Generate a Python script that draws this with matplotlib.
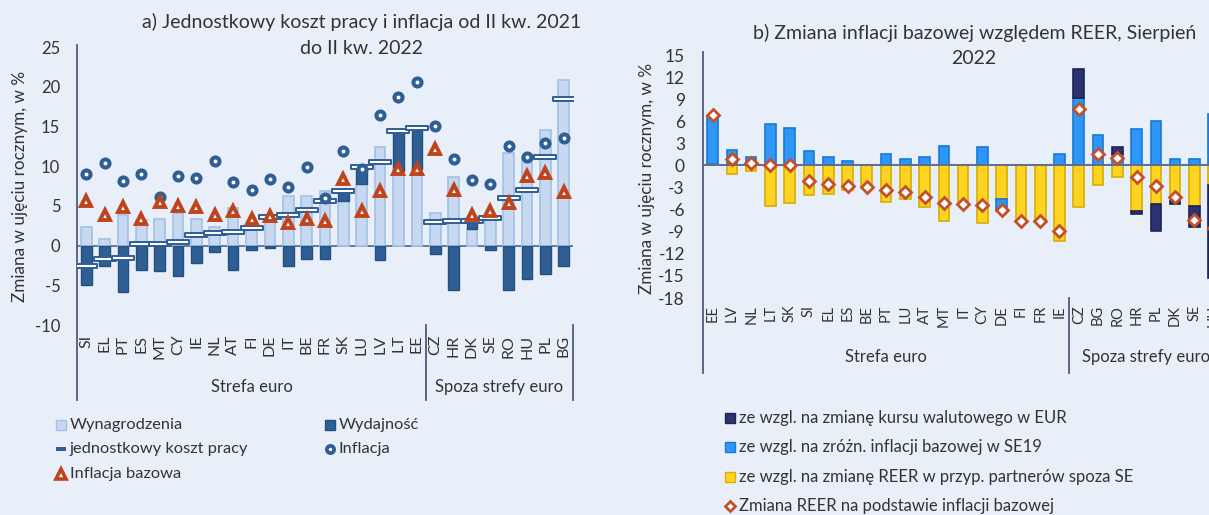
import numpy as np
import matplotlib
matplotlib.use("Agg")
import matplotlib.pyplot as plt
from matplotlib.path import Path
from matplotlib.lines import Line2D
from matplotlib.patches import Rectangle
import matplotlib.transforms as mtrans

plt.rcParams['font.family'] = ['Lato', 'DejaVu Sans']

# ---------------- data: panel a ----------------
cats_a = ['SI', 'EL', 'PT', 'ES', 'MT', 'CY', 'IE', 'NL', 'AT', 'FI', 'DE', 'IT', 'BE', 'FR',
          'SK', 'LU', 'LV', 'LT', 'EE', 'CZ', 'HR', 'DK', 'SE', 'RO', 'HU', 'PL', 'BG']
wages = [2.4, 0.85, 3.9, 3.2, 3.4, 4.1, 3.4, 2.3, 4.7, 2.7, 3.9, 6.2, 6.2, 6.9,
         5.65, 7.75, 12.35, 9.4, 9.6, 4.05, 8.6, 2.1, 3.9, 11.6, 11.1, 14.6, 20.85]
productivity = [-5.0, -2.55, -5.8, -3.05, -3.2, -3.85, -2.2, -0.85, -3.05, -0.5, -0.3, -2.55, -1.7, -1.7,
                1.2, 2.05, -1.8, 5.05, 5.15, -1.1, -5.65, 0.95, -0.5, -5.65, -4.2, -3.55, -2.6]
ulc = [-2.55, -1.7, -1.6, 0.2, 0.2, 0.4, 1.35, 1.6, 1.7, 2.2, 3.6, 3.8, 4.5, 5.55,
       6.85, 9.85, 10.55, 14.45, 14.75, 2.95, 3.05, 3.05, 3.45, 6.0, 6.95, 11.2, 18.45]
inflation = [9.0, 10.4, 8.1, 9.0, 6.1, 8.8, 8.5, 10.6, 8.0, 7.0, 8.4, 7.4, 9.9, 5.95,
             11.95, 9.7, 16.4, 18.65, 20.6, 15.1, 10.9, 8.3, 7.7, 12.5, 11.1, 12.9, 13.5]
core_inflation = [5.6, 3.9, 4.8, 3.4, 5.45, 4.95, 4.8, 3.85, 4.4, 3.3, 3.7, 2.8, 3.3, 3.15,
                  8.4, 4.4, 6.85, 9.65, 9.65, 12.1, 7.05, 3.8, 4.3, 5.3, 8.8, 9.1, 6.7]
n_euro_a = 19
yticks_a = [-10, -5, 0, 5, 10, 15, 20, 25]

# ---------------- data: panel b ----------------
cats_b = ['EE', 'LV', 'NL', 'LT', 'SK', 'SI', 'EL', 'ES', 'BE', 'PT', 'LU', 'AT', 'MT', 'IT',
          'CY', 'DE', 'FI', 'FR', 'IE', 'CZ', 'BG', 'RO', 'HR', 'PL', 'DK', 'SE', 'HU']
fx_eur = [0, 0, 0, 0, 0, 0, 0, 0, 0, 0, 0, 0, 0, 0, 0, 0, 0, 0, 0,
          3.9, 0, 0.9, -0.45, -3.6, -0.45, -2.85, -12.6]
core_diff_se19 = [6.4, 2.1, 1.1, 5.6, 5.1, 1.9, 1.2, 0.6, 0, 1.6, 0.9, 1.2, 2.6, 0,
                  2.45, -1.4, 0, 0, 1.55, 9.2, 4.2, 1.6, 4.9, 6.05, 0.9, 0.9, 6.95]
reer_non_se = [0.25, -1.2, -0.7, -5.45, -5.05, -4.0, -3.85, -3.3, -2.9, -4.9, -4.6, -5.6, -7.6, -5.3,
               -7.85, -4.6, -7.55, -7.6, -10.3, -5.6, -2.7, -1.55, -6.2, -5.3, -4.8, -5.55, -2.7]
reer_total = [6.8, 0.9, 0.3, 0.1, 0.1, -2.05, -2.55, -2.75, -2.9, -3.4, -3.6, -4.3, -5.05, -5.3,
              -5.35, -6.05, -7.5, -7.5, -8.85, 7.6, 1.5, 1.0, -1.6, -2.8, -4.3, -7.35, -8.5]
n_euro_b = 19
yticks_b = [-18, -15, -12, -9, -6, -3, 0, 3, 6, 9, 12, 15]

# ---------------- styling ----------------
W, H = 1209, 515
BG = '#E8EFF8'
TXT = '#333333'
AXC = '#4D5B7C'
TITLE_FS = 14
TICK_FS = 12
LAB_FS = 12.3
GROUP_FS = 12

fig = plt.figure(figsize=(W / 100, H / 100), dpi=100, facecolor=BG)


def px_axes(x0, y0, x1, y1):
    ax = fig.add_axes([x0 / W, 1 - y1 / H, (x1 - x0) / W, (y1 - y0) / H])
    ax.patch.set_alpha(0)
    return ax


def fx(x):
    return x / W


def fy(y):
    return 1 - y / H


def leg_square(cx, cy, face, edge, size=10):
    fig.add_artist(Rectangle((fx(cx - size / 2), fy(cy + size / 2)), size / W, size / H,
                             facecolor=face, edgecolor=edge, lw=1.0, transform=fig.transFigure))


def leg_marker(cx, cy, **kw):
    fig.add_artist(Line2D([fx(cx)], [fy(cy)], transform=fig.transFigure, ls='none', **kw))


# ================= panel a =================
ax1 = px_axes(77, 47, 573, 325)
xa = np.arange(len(cats_a))
wa = 0.58
ax1.bar(xa, wages, width=wa, color='#C6D9F1', edgecolor='#A3C1E8', linewidth=1.2, zorder=2)
prod = np.array(productivity)
bot = np.where(prod > 0, np.array(wages), 0)
ax1.bar(xa, prod, bottom=bot, width=wa, color='#2F5E94', edgecolor='#24507F', linewidth=1.0, zorder=2)
ax1.axhline(0, color='#5E6E8E', lw=1.3, zorder=1)

dash = Path([(-1, -0.22), (1, -0.22), (1, 0.22), (-1, 0.22), (-1, -0.22)],
            [Path.MOVETO, Path.LINETO, Path.LINETO, Path.LINETO, Path.CLOSEPOLY])
ax1.plot(xa, ulc, ls='none', marker=dash, ms=16, mfc='white', mec='#2F5E94', mew=1.4, zorder=4)
ax1.plot(xa, inflation, ls='none', marker='o', ms=5.8, mfc='white', mec='#2F5E94', mew=2.9, zorder=5)
ax1.plot(xa, core_inflation, ls='none', marker='^', ms=7.5, mfc='white', mec='#C0441B', mew=2.8, zorder=6)

ax1.set_xlim(-0.5, len(cats_a) - 0.5)
ax1.set_ylim(-10, 25)
ax1.set_yticks(yticks_a)
ax1.set_yticklabels([str(v) for v in yticks_a])
ax1.set_xticks(xa)
ax1.set_xticklabels(cats_a, rotation=90)
ax1.tick_params(axis='y', length=0, pad=12, labelsize=TICK_FS, labelcolor=TXT)
ax1.tick_params(axis='x', length=0, pad=7, labelsize=11.5, labelcolor=TXT)
for s in ax1.spines.values():
    s.set_visible(False)
tr1 = mtrans.blended_transform_factory(ax1.transData, ax1.transAxes)
ax1.plot([-0.5, -0.5], [-0.27, 1.007], transform=tr1, color=AXC, lw=1.3, clip_on=False)
for xs in [n_euro_a - 0.5, len(cats_a) - 0.5]:
    ax1.plot([xs, xs], [-0.27, 0], transform=tr1, color=AXC, lw=1.3, clip_on=False)
ax1.text((n_euro_a - 1) / 2, -0.223, 'Strefa euro', transform=tr1, ha='center', va='center',
         fontsize=GROUP_FS, color=TXT)
ax1.text((n_euro_a - 0.5 + len(cats_a) - 0.5) / 2, -0.223, 'Spoza strefy euro', transform=tr1,
         ha='center', va='center', fontsize=GROUP_FS, color=TXT)

fig.text(fx(362), fy(22), 'a) Jednostkowy koszt pracy i inflacja od II kw. 2021', ha='center', va='center',
         fontsize=TITLE_FS, color=TXT)
fig.text(fx(362), fy(48), 'do II kw. 2022', ha='center', va='center', fontsize=TITLE_FS, color=TXT)
fig.text(fx(20), fy(186), 'Zmiana w ujęciu rocznym, w %', rotation=90, ha='center', va='center',
         fontsize=LAB_FS, color=TXT)

LEGA_FS = 11.8
leg_square(61, 425, '#C6D9F1', '#A3C1E8')
fig.text(fx(70), fy(425), 'Wynagrodzenia', ha='left', va='center', fontsize=LEGA_FS, color=TXT)
fig.add_artist(Rectangle((fx(56), fy(451)), 10 / W, 4 / H, facecolor='#2F5E94', edgecolor='none',
                         transform=fig.transFigure))
fig.text(fx(70), fy(449), 'jednostkowy koszt pracy', ha='left', va='center', fontsize=LEGA_FS, color=TXT)
leg_marker(61, 474, marker='^', ms=7, mfc='white', mec='#C0441B', mew=2.6)
fig.text(fx(70), fy(474), 'Inflacja bazowa', ha='left', va='center', fontsize=LEGA_FS, color=TXT)
leg_square(330, 425, '#2F5E94', '#24507F')
fig.text(fx(339), fy(425), 'Wydajność', ha='left', va='center', fontsize=LEGA_FS, color=TXT)
leg_marker(330, 449, marker='o', ms=5.2, mfc='white', mec='#2F5E94', mew=2.7)
fig.text(fx(339), fy(449), 'Inflacja', ha='left', va='center', fontsize=LEGA_FS, color=TXT)

# ================= panel b =================
step_b = 19.27
ax2 = px_axes(703, 55, 703 + step_b * len(cats_b), 298)
xb = np.arange(len(cats_b))
wb = 0.55
pos = np.zeros(len(cats_b))
neg = np.zeros(len(cats_b))
series_b = [(reer_non_se, '#FFD321', '#D8AE00'),
            (core_diff_se19, '#2E96F7', '#1A78D6'),
            (fx_eur, '#2B3270', '#1D2355')]
for vals, col, ec in series_b:
    v = np.array(vals, dtype=float)
    bottom = np.where(v >= 0, pos, neg)
    m = v != 0
    ax2.bar(xb[m], v[m], bottom=bottom[m], width=wb, color=col, edgecolor=ec, linewidth=1.2, zorder=2)
    pos += np.clip(v, 0, None)
    neg += np.clip(v, None, 0)
ax2.axhline(0, color='#5E6E8E', lw=1.4, zorder=3)
ax2.plot(xb, reer_total, ls='none', marker='D', ms=6, mfc='white', mec='#C4502A', mew=2.0, zorder=5)

ax2.set_xlim(-0.5, len(cats_b) - 0.5)
ax2.set_ylim(-18, 15)
ax2.set_yticks(yticks_b)
ax2.set_yticklabels([str(v) for v in yticks_b])
ax2.set_xticks(xb)
ax2.set_xticklabels(cats_b, rotation=90)
ax2.tick_params(axis='y', length=0, pad=13, labelsize=12.5, labelcolor=TXT)
ax2.tick_params(axis='x', length=0, pad=5, labelsize=10.5, labelcolor=TXT)
for s in ax2.spines.values():
    s.set_visible(False)
tr2 = mtrans.blended_transform_factory(ax2.transData, ax2.transAxes)
ax2.plot([-0.5, -0.5], [-0.31, 1.012], transform=tr2, color=AXC, lw=1.3, clip_on=False)
ax2.plot([n_euro_b - 0.5, n_euro_b - 0.5], [-0.31, 0], transform=tr2, color=AXC, lw=1.3, clip_on=False)
ax2.text((n_euro_b - 1) / 2, -0.243, 'Strefa euro', transform=tr2, ha='center', va='center',
         fontsize=GROUP_FS, color=TXT)
ax2.text((n_euro_b - 0.5 + len(cats_b) - 0.5) / 2, -0.243, 'Spoza strefy euro', transform=tr2,
         ha='center', va='center', fontsize=GROUP_FS, color=TXT)

fig.text(fx(975), fy(33), 'b) Zmiana inflacji bazowej względem REER, Sierpień', ha='center', va='center',
         fontsize=TITLE_FS, color=TXT)
fig.text(fx(974), fy(58), '2022', ha='center', va='center', fontsize=TITLE_FS, color=TXT)
fig.text(fx(647), fy(178), 'Zmiana w ujęciu rocznym, w %', rotation=90, ha='center', va='center',
         fontsize=LAB_FS, color=TXT)

LEGB_FS = 12
leg_square(730, 418, '#2B3270', '#1D2355')
fig.text(fx(739), fy(418), 'ze wzgl. na zmianę kursu walutowego w EUR', ha='left', va='center',
         fontsize=LEGB_FS, color=TXT)
leg_square(730, 447, '#2E96F7', '#1A78D6')
fig.text(fx(739), fy(447), 'ze wzgl. na zróżn. inflacji bazowej w SE19', ha='left', va='center',
         fontsize=LEGB_FS, color=TXT)
leg_square(730, 477, '#FFD321', '#D8AE00')
fig.text(fx(739), fy(477), 'ze wzgl. na zmianę REER w przyp. partnerów spoza SE', ha='left', va='center',
         fontsize=LEGB_FS, color=TXT)
leg_marker(730, 506, marker='D', ms=5.5, mfc='white', mec='#C4502A', mew=2.0)
fig.text(fx(739), fy(506), 'Zmiana REER na podstawie inflacji bazowej', ha='left', va='center',
         fontsize=LEGB_FS, color=TXT)

fig.savefig('out.png', dpi=100, facecolor=BG)
